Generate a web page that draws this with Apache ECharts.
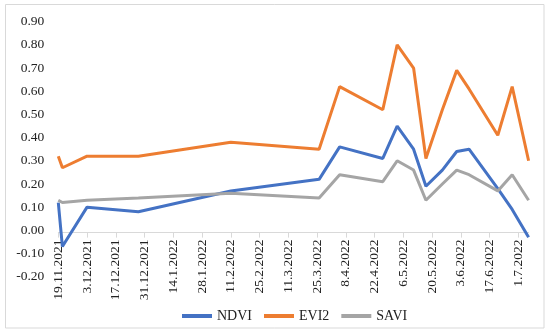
<!DOCTYPE html>
<html>
<head>
<meta charset="utf-8">
<script src="https://cdn.jsdelivr.net/npm/echarts@6/dist/echarts.min.js"></script>
<style>html,body{margin:0;padding:0;background:#fff;}#c{width:550px;height:335px;}</style>
</head>
<body>
<div id="c"></div>
<script>
var dates = ['19.11.2021','21.11.2021','3.12.2021','28.12.2021','11.2.2022','26.3.2022','5.4.2022','26.4.2022','3.5.2022','11.5.2022','17.5.2022','25.5.2022','1.6.2022','7.6.2022','21.6.2022','28.6.2022','6.7.2022'];
var ndvi = [0.12,-0.07,0.10,0.08,0.17,0.22,0.36,0.31,0.45,0.35,0.19,0.26,0.34,0.35,0.18,0.09,-0.03];
var evi2 = [0.32,0.27,0.32,0.32,0.38,0.35,0.62,0.52,0.80,0.70,0.31,0.52,0.69,0.61,0.41,0.62,0.30];
var savi = [0.13,0.12,0.13,0.14,0.16,0.14,0.24,0.21,0.30,0.26,0.13,0.20,0.26,0.24,0.17,0.24,0.13];
var tickLabels = ['19.11.2021','3.12.2021','17.12.2021','31.12.2021','14.1.2022','28.1.2022','11.2.2022','25.2.2022','11.3.2022','25.3.2022','8.4.2022','22.4.2022','6.5.2022','20.5.2022','3.6.2022','17.6.2022','1.7.2022'];

function parseD(s){var p=s.split('.');return Date.UTC(+p[2],+p[1]-1,+p[0]);}
var t0 = parseD(dates[0]);
function dayOff(s){return Math.round((parseD(s)-t0)/86400000);}
var xs = dates.map(dayOff);
var tickPos = tickLabels.map(dayOff);
var labelMap = {};
tickPos.forEach(function(p,i){labelMap[p]=tickLabels[i];});
function pairs(arr){return arr.map(function(v,i){return [xs[i],v];});}

var font = 'Liberation Serif';
var chart = echarts.init(document.getElementById('c'));
chart.setOption({
  animation:false,
  backgroundColor:'#fff',
  graphic:[{type:'rect',shape:{x:5.5,y:4.5,width:538.5,height:323.5},style:{fill:'none',stroke:'#d9d9d9',lineWidth:1}}],
  grid:{left:58.3,right:21.4,top:21.7,bottom:58.3,containLabel:false},
  legend:{
    data:['NDVI','EVI2','SAVI'],
    left:177, top:304,
    icon:'rect', itemWidth:30, itemHeight:4, itemGap:12,
    textStyle:{fontFamily:font,fontSize:14,color:'#222'}
  },
  xAxis:{
    type:'value', min:0, max:xs[xs.length-1], interval:14,
    axisLine:{onZero:false,lineStyle:{color:'#d9d9d9',width:1}},
    axisTick:{show:true,length:5,lineStyle:{color:'#d9d9d9'}},
    splitLine:{show:false},
    axisLabel:{
      rotate:90, margin:7, showMaxLabel:false,
      fontFamily:font, fontSize:13.5, color:'#222',
      formatter:function(v){return labelMap[v]||'';}
    }
  },
  yAxis:{
    type:'value', min:-0.2, max:0.9, interval:0.1,
    axisLine:{show:false}, axisTick:{show:false}, splitLine:{show:false},
    axisLabel:{margin:14, fontFamily:font, fontSize:13.5, color:'#222',
      formatter:function(v){return v.toFixed(2);}}
  },
  series:[
    {name:'NDVI',type:'line',data:pairs(ndvi),symbol:'none',lineStyle:{color:'#4472C4',width:3},itemStyle:{color:'#4472C4'}},
    {name:'EVI2',type:'line',data:pairs(evi2),symbol:'none',lineStyle:{color:'#ED7D31',width:3},itemStyle:{color:'#ED7D31'}},
    {name:'SAVI',type:'line',data:pairs(savi),symbol:'none',lineStyle:{color:'#A5A5A5',width:3},itemStyle:{color:'#A5A5A5'}}
  ]
});
var yZero = chart.convertToPixel({yAxisIndex:0}, 0);
var yMin = chart.convertToPixel({yAxisIndex:0}, -0.2);
chart.setOption({xAxis:{offset: yZero - yMin}});
</script>
</body>
</html>
